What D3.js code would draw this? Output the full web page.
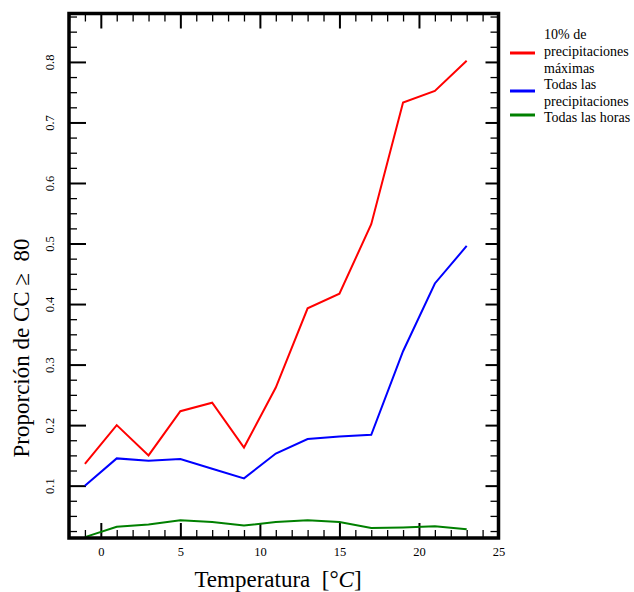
<!DOCTYPE html>
<html>
<head>
<meta charset="utf-8">
<script src="https://cdn.jsdelivr.net/npm/d3@7/dist/d3.min.js"></script>
<style>
  body { margin: 0; background: #fff; }
  text { font-family: "Liberation Serif", "DejaVu Serif", serif; }
</style>
</head>
<body>
<svg id="chart"></svg>
<script>
// temperatures (bin centres)
var temps = [-1, 1, 3, 5, 7, 9, 11, 13, 15, 17, 19, 21, 23];
var top10 = [0.136, 0.200, 0.150, 0.223, 0.237, 0.163, 0.262, 0.393, 0.417, 0.532, 0.733, 0.752, 0.802];
var allPrecip = [0.100, 0.145, 0.141, 0.144, 0.128, 0.112, 0.153, 0.177, 0.181, 0.184, 0.322, 0.434, 0.496];
var allHours = [0.015, 0.032, 0.036, 0.043, 0.040, 0.034, 0.040, 0.043, 0.040, 0.030, 0.031, 0.033, 0.028];
var seriesNames = [["10% de", "precipitaciones", "máximas"], ["Todas las", "precipitaciones"], ["Todas las horas"]];
var seriesColors = ["#ff0000", "#0000ff", "#008000"];
var xTicks = [0, 5, 10, 15, 20, 25];
var yTicks = [0.1, 0.2, 0.3, 0.4, 0.5, 0.6, 0.7, 0.8];

var width = 634, height = 592;
var mLeft = 69, mRight = 498.5, mTop = 13.5, mBottom = 538;

var svg = d3.select("#chart").attr("width", width).attr("height", height);

var x = d3.scaleLinear().domain([-2, 25]).range([mLeft, mRight]);
var y = d3.scaleLinear().domain([0.0135, 0.88]).range([mBottom, mTop]);

var xMinor = d3.range(-2, 26, 1).filter(d => xTicks.indexOf(d) < 0);
var yMinor = d3.range(0.025, 0.88, 0.025).filter(d => yTicks.every(t => Math.abs(t - d) > 1e-6));

function styleTicks(g, w) {
  g.select(".domain").remove();
  g.selectAll(".tick line").attr("stroke", "#000").attr("stroke-width", w);
}

// minor ticks, all four sides, pointing in
svg.append("g").attr("transform", `translate(0,${mBottom})`)
  .call(d3.axisBottom(x).tickValues(xMinor).tickSize(-8).tickFormat(""))
  .call(g => styleTicks(g, 1.3));
svg.append("g").attr("transform", `translate(0,${mTop})`)
  .call(d3.axisTop(x).tickValues(xMinor).tickSize(-8).tickFormat(""))
  .call(g => styleTicks(g, 1.3));
svg.append("g").attr("transform", `translate(${mLeft},0)`)
  .call(d3.axisLeft(y).tickValues(yMinor).tickSize(-8).tickFormat(""))
  .call(g => styleTicks(g, 1.3));
svg.append("g").attr("transform", `translate(${mRight},0)`)
  .call(d3.axisRight(y).tickValues(yMinor).tickSize(-8).tickFormat(""))
  .call(g => styleTicks(g, 1.3));

// major ticks
svg.append("g").attr("transform", `translate(0,${mBottom})`)
  .call(d3.axisBottom(x).tickValues(xTicks).tickSize(-15).tickPadding(9).tickFormat(d3.format("d")))
  .call(g => styleTicks(g, 2))
  .call(g => g.selectAll("text").attr("fill", "#000").style("font-size", "12.5px"));
svg.append("g").attr("transform", `translate(0,${mTop})`)
  .call(d3.axisTop(x).tickValues(xTicks).tickSize(-15).tickFormat(""))
  .call(g => styleTicks(g, 2));
svg.append("g").attr("transform", `translate(${mLeft},0)`)
  .call(d3.axisLeft(y).tickValues(yTicks).tickSize(-17).tickFormat(d3.format(".1f")))
  .call(g => styleTicks(g, 2))
  .call(g => g.selectAll("text")
    .attr("fill", "#000").style("font-size", "12.5px")
    .attr("x", 0).attr("dy", "0.35em").attr("text-anchor", "middle")
    .attr("transform", "translate(-19,0) rotate(-90)"));
svg.append("g").attr("transform", `translate(${mRight},0)`)
  .call(d3.axisRight(y).tickValues(yTicks).tickSize(-13).tickFormat(""))
  .call(g => styleTicks(g, 2));

// lines
var line = d3.line().x((d, i) => x(temps[i])).y(d => y(d));
[top10, allPrecip, allHours].forEach(function(vals, i) {
  svg.append("path")
    .datum(vals)
    .attr("d", line)
    .attr("fill", "none")
    .attr("stroke", seriesColors[i])
    .attr("stroke-width", 2);
});

// frame
svg.append("rect")
  .attr("x", mLeft).attr("y", mTop)
  .attr("width", mRight - mLeft).attr("height", mBottom - mTop)
  .attr("fill", "none").attr("stroke", "#000").attr("stroke-width", 3.5);

// axis titles
var xt = svg.append("text")
  .attr("x", 278).attr("y", 587)
  .attr("text-anchor", "middle").style("font-size", "23px");
xt.append("tspan").text("Temperatura\u00a0\u00a0[°");
xt.append("tspan").style("font-style", "italic").text("C");
xt.append("tspan").text("]");

svg.append("text")
  .attr("transform", "translate(29,348) rotate(-90)")
  .attr("text-anchor", "middle").style("font-size", "23px")
  .text("Proporción de CC\u00a0≥\u00a0\u00a080");

// legend
var legendLineY = [53, 91, 115];
var legendTextY = [[34, 51, 68], [84, 101], [117]];
var legend = svg.append("g");
seriesNames.forEach(function(lines, i) {
  legend.append("line")
    .attr("x1", 510).attr("x2", 535)
    .attr("y1", legendLineY[i]).attr("y2", legendLineY[i])
    .attr("stroke", seriesColors[i]).attr("stroke-width", 3);
  lines.forEach(function(t, j) {
    legend.append("text")
      .attr("x", 544).attr("y", legendTextY[i][j])
      .attr("dy", "0.35em")
      .style("font-size", "14px")
      .text(t);
  });
});
</script>
</body>
</html>
